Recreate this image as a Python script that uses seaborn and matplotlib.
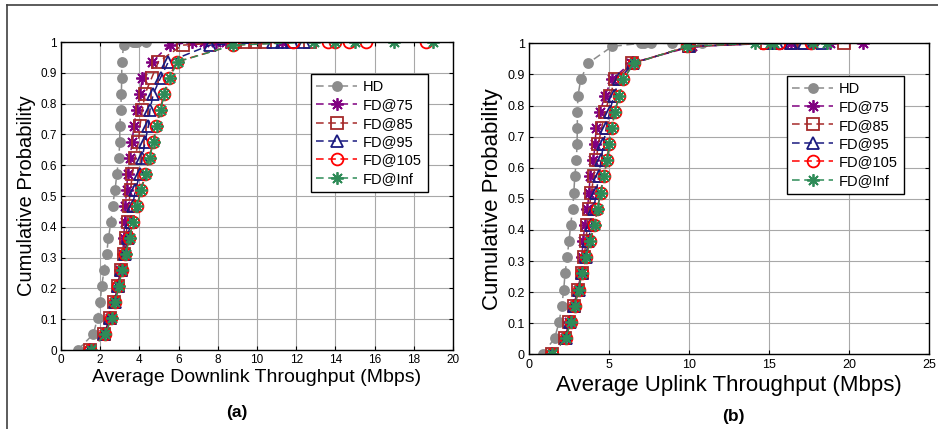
import numpy as np
import pandas as pd
import matplotlib
matplotlib.use("Agg")
import matplotlib.pyplot as plt
import seaborn as sns

# cdf levels shared by every curve, the rest of the points sit at 1.0
levels = [0, 0.052, 0.104, 0.156, 0.208, 0.26, 0.312, 0.364, 0.416, 0.468,
          0.52, 0.572, 0.624, 0.676, 0.728, 0.78, 0.832, 0.884, 0.936, 0.99]

names = ['HD', 'FD@75', 'FD@85', 'FD@95', 'FD@105', 'FD@Inf']

# downlink (a)
dl_hd = [0.85, 1.65, 1.87, 2.0, 2.08, 2.2, 2.33, 2.42, 2.55, 2.63, 2.76, 2.85, 2.95, 3.0, 3.0, 3.05, 3.08, 3.1, 3.1, 3.2]
dl_75 = [1.5, 2.2, 2.5, 2.72, 2.9, 3.02, 3.15, 3.2, 3.25, 3.28, 3.35, 3.4, 3.52, 3.63, 3.72, 3.86, 4.03, 4.15, 4.63, 5.55]
dl_85 = [1.5, 2.2, 2.5, 2.73, 2.92, 3.05, 3.2, 3.3, 3.4, 3.45, 3.55, 3.64, 3.78, 3.95, 4.03, 4.15, 4.29, 4.63, 4.97, 6.2]
dl_95 = [1.5, 2.22, 2.52, 2.74, 2.93, 3.08, 3.25, 3.4, 3.55, 3.65, 3.8, 4.03, 4.15, 4.29, 4.46, 4.54, 4.71, 5.08, 5.48, 7.6]
dl_105 = [1.5, 2.25, 2.57, 2.75, 2.93, 3.1, 3.28, 3.48, 3.67, 3.88, 4.08, 4.3, 4.5, 4.7, 4.87, 5.05, 5.26, 5.5, 5.9, 8.8]
dl_inf = [1.52, 2.27, 2.58, 2.76, 2.95, 3.12, 3.3, 3.5, 3.68, 3.88, 4.1, 4.32, 4.52, 4.72, 4.9, 5.08, 5.28, 5.55, 5.95, 8.8]
dl_tail = [[3.65, 3.8, 3.9, 4.35],
           [6.7, 7.3, 7.9, 8.4, 11.3],
           [8.9, 9.4, 9.9, 10.4, 12.7],
           [10.8, 11.3, 11.8, 12.4],
           [11.85, 13.6, 14.0, 14.7, 15.55, 18.6],
           [12.9, 14.0, 15.0, 17.0, 19.0]]

# uplink (b)
ul_hd = [0.85, 1.6, 1.88, 2.05, 2.17, 2.25, 2.38, 2.5, 2.6, 2.73, 2.8, 2.86, 2.96, 3.0, 3.02, 3.02, 3.06, 3.23, 3.69, 5.19]
ul_75 = [1.42, 2.25, 2.5, 2.78, 3.05, 3.25, 3.3, 3.38, 3.48, 3.65, 3.75, 3.81, 4.02, 4.13, 4.19, 4.44, 4.75, 5.17, 6.35, 10.2]
ul_85 = [1.42, 2.27, 2.52, 2.8, 3.07, 3.28, 3.45, 3.55, 3.65, 3.75, 3.9, 4.04, 4.2, 4.33, 4.54, 4.75, 5.06, 5.38, 6.45, 10.0]
ul_95 = [1.42, 2.3, 2.57, 2.83, 3.1, 3.3, 3.55, 3.7, 3.9, 4.05, 4.2, 4.35, 4.5, 4.65, 4.83, 5.04, 5.3, 5.65, 6.5, 10.0]
ul_105 = [1.43, 2.3, 2.6, 2.85, 3.1, 3.3, 3.56, 3.8, 4.08, 4.27, 4.47, 4.66, 4.88, 5.0, 5.17, 5.36, 5.63, 5.88, 6.55, 9.9]
ul_inf = [1.44, 2.3, 2.6, 2.85, 3.1, 3.3, 3.57, 3.8, 4.1, 4.28, 4.48, 4.67, 4.88, 5.01, 5.18, 5.37, 5.64, 5.9, 6.55, 9.9]
ul_tail = [[6.98, 7.2, 7.65, 8.94, 10.83],
           [15.15, 16.4, 17.6, 18.8, 20.9],
           [14.9, 16.4, 17.2, 19.7],
           [15.2, 15.5, 16.4, 17.2, 18.3],
           [14.6, 15.6, 17.6],
           [14.1, 15.04, 15.3, 17.75, 18.6]]

colors = ['#8c8c8c', '#800080', '#a52a2a', '#1a1a80', '#ff0000', '#2e8b57']
markers = ['o', (8, 2, 0), 's', '^', 'o', (8, 2, 0)]
filled = [True, False, False, False, False, False]
msizes = [6.5, 9, 8, 8.5, 8.5, 9]

plt.rcParams['font.family'] = ['Liberation Sans', 'DejaVu Sans']

fig = plt.figure(figsize=(9.38, 4.29), dpi=100)
ax1 = fig.add_axes([0.065, 0.184, 0.418, 0.718])
ax2 = fig.add_axes([0.564, 0.174, 0.4264, 0.725])


def draw(ax, xs, tails, xmax, xstep, xlabel, leg_anchor, fs):
    for i, name in enumerate(names):
        x = list(xs[i]) + list(tails[i])
        y = list(levels) + [1.0] * len(tails[i])
        d = pd.DataFrame({'x': x, 'y': y})
        sns.lineplot(data=d, x='x', y='y', ax=ax, estimator=None, sort=False,
                     color=colors[i], linestyle=(0, (5, 3)), linewidth=1.1,
                     marker=markers[i], markersize=msizes[i],
                     mec=colors[i], mfc=colors[i] if filled[i] else 'none',
                     mew=1.3, label=name)
    ax.set_xlim(0, xmax)
    ax.set_ylim(0, 1)
    ax.set_xticks(np.arange(0, xmax + 0.1, xstep))
    ax.set_yticks(np.arange(0, 1.01, 0.1))
    ax.set_yticklabels(['0', '0.1', '0.2', '0.3', '0.4', '0.5', '0.6', '0.7', '0.8', '0.9', '1'])
    ax.grid(True, color='#a8a8a8', linewidth=0.8)
    ax.set_axisbelow(True)
    ax.tick_params(direction='in', length=3, top=True, right=True, labelsize=fs['tick'], pad=3)
    for s in ax.spines.values():
        s.set_linewidth(1.0)
    ax.set_xlabel(xlabel, fontsize=fs['xlab'], labelpad=fs['xpad'])
    ax.set_ylabel('Cumulative Probability', fontsize=fs['ylab'], labelpad=3)
    leg = ax.legend(loc='upper right', bbox_to_anchor=leg_anchor, fontsize=fs['leg'],
                    fancybox=False, edgecolor='black', framealpha=1,
                    handlelength=2.8, labelspacing=0.3, borderpad=0.4,
                    handletextpad=0.4, borderaxespad=0)
    leg.get_frame().set_linewidth(1.0)


draw(ax1, [dl_hd, dl_75, dl_85, dl_95, dl_105, dl_inf], dl_tail, 20, 2,
     'Average Downlink Throughput (Mbps)', (0.936, 0.896),
     {'tick': 8.5, 'xlab': 14, 'ylab': 14.5, 'xpad': 2, 'leg': 10.5})
draw(ax2, [ul_hd, ul_75, ul_85, ul_95, ul_105, ul_inf], ul_tail, 25, 5,
     'Average Uplink Throughput (Mbps)', (0.9375, 0.895),
     {'tick': 9, 'xlab': 16, 'ylab': 16, 'xpad': 3, 'leg': 10.5})

fig.text(237 / 938, 1 - 413 / 429, '(a)', ha='center', va='center', fontsize=12.5, fontweight='bold')
fig.text(733 / 938, 1 - 416 / 429, '(b)', ha='center', va='center', fontsize=12.5, fontweight='bold')

# outer frame lines of the original panel
fig.add_artist(plt.Line2D([7 / 938, 1], [1 - 5 / 429, 1 - 5 / 429], color='#404040', lw=1.2, transform=fig.transFigure))
fig.add_artist(plt.Line2D([7 / 938, 7 / 938], [0, 1 - 5 / 429], color='#404040', lw=1.2, transform=fig.transFigure))

fig.savefig('out.png', dpi=100)
